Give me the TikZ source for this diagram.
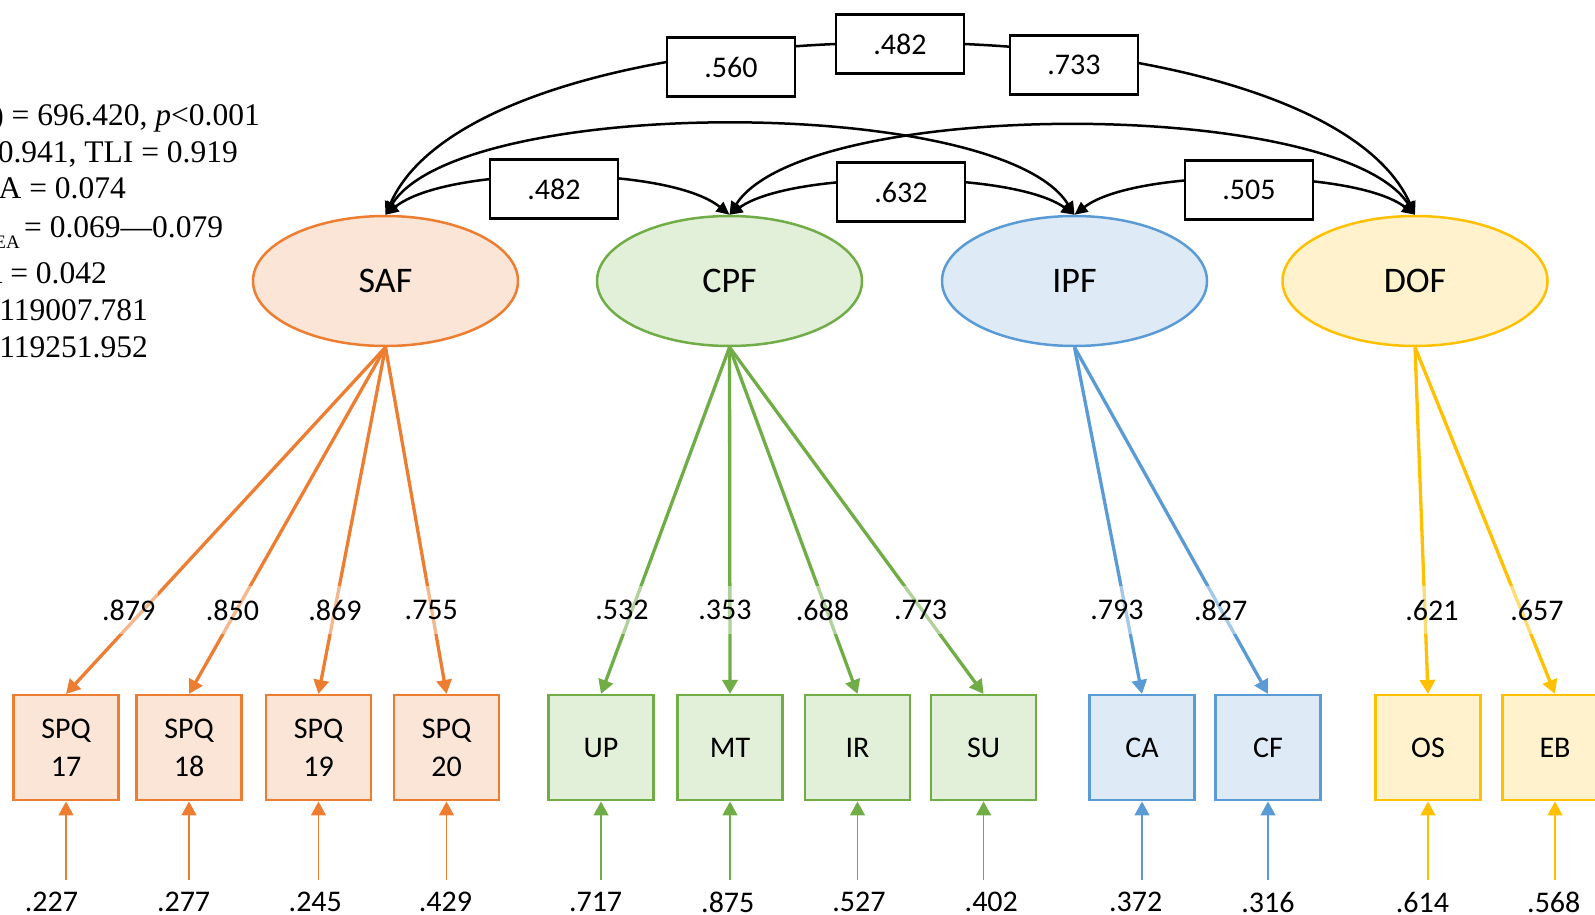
\documentclass[tikz,border=0pt]{standalone}
\usepackage{fontspec}
\setmainfont{Carlito}
\newfontfamily\timesfont{Liberation Serif}
\usetikzlibrary{arrows.meta,shapes.geometric}

\definecolor{orgline}{HTML}{ED7D31}
\definecolor{orgfill}{HTML}{FBE5D6}
\definecolor{grnline}{HTML}{70AD47}
\definecolor{grnfill}{HTML}{E2F0D9}
\definecolor{bluline}{HTML}{5B9BD5}
\definecolor{blufill}{HTML}{DEEBF7}
\definecolor{yelline}{HTML}{FFC000}
\definecolor{yelfill}{HTML}{FFF2CC}

\tikzset{
  factor/.style={ellipse, draw, line width=2.5pt, minimum width=265pt, minimum height=130pt, inner sep=0pt, font=\fontsize{36}{40}\selectfont},
  item/.style={rectangle, draw, line width=2.5pt, minimum width=105pt, minimum height=105pt, inner sep=0pt, align=center, font=\fontsize{30}{38}\selectfont},
  covbox/.style={rectangle, draw, fill=white, line width=2.5pt, minimum width=128pt, minimum height=59pt, font=\fontsize{30}{36}\selectfont},
  loadlab/.style={fill=white, fill opacity=0.45, text opacity=1, inner xsep=3pt, inner ysep=14pt, font=\fontsize{30}{36}\selectfont},
  errlab/.style={inner xsep=2pt, inner ysep=1pt, outer ysep=11pt, font=\fontsize{30}{36}\selectfont},
  stat/.style={inner sep=0pt, font=\timesfont\fontsize{31.5}{36}\selectfont},
  cov/.style={{Triangle[length=13pt,width=12pt]}-{Triangle[length=13pt,width=12pt]}, line width=2.5pt},
  load/.style={-{Triangle[length=14pt,width=15pt]}, line width=3.3pt},
  err/.style={-{Triangle[length=14pt,width=15pt]}, line width=1.5pt},
}

\begin{document}
\begin{tikzpicture}[x=1pt,y=-1pt]
    \useasboundingbox (0,0) rectangle (1595,915);

    %%%%%%%%%%%%%%%%%%%% fit indices
    \node[stat, anchor=base east] (st1) at (260,125) {) = 696.420, \textit{p}<0.001};
    \node[stat, anchor=base east] (st2) at (238,162) {0.941, TLI = 0.919};
    \node[stat, anchor=base east] (st3) at (126,198) {A = 0.074};
    \node[stat, anchor=base west] (st4) at (24,237) {= 0.069—0.079};
    \node[stat, anchor=base east, font=\timesfont\fontsize{19}{20}\selectfont] (st4s) at (20,248) {EA};
    \node[stat, anchor=base east] (st5) at (107,283) {R = 0.042};
    \node[stat, anchor=base east] (st6) at (148,320) {119007.781};
    \node[stat, anchor=base east] (st7) at (148,357) {119251.952};

    %%%%%%%%%%%%%%%%%%%% factors
    \node[factor, draw=orgline, fill=orgfill] (SAF) at (385.5,281) {SAF};
    \node[factor, draw=grnline, fill=grnfill] (CPF) at (729.5,281) {CPF};
    \node[factor, draw=bluline, fill=blufill] (IPF) at (1074.5,281) {IPF};
    \node[factor, draw=yelline, fill=yelfill] (DOF) at (1415,281) {DOF};

    %%%%%%%%%%%%%%%%%%%% items
    \foreach \nm/\x/\lab in {s17/66/17, s18/189/18, s19/318.5/19, s20/446.5/20}
        \node[item, draw=orgline, fill=orgfill] (\nm) at (\x,747.7) {SPQ\\\lab};
    \foreach \nm/\x in {UP/601, MT/730, IR/857.5, SU/983.6}
        \node[item, draw=grnline, fill=grnfill] (\nm) at (\x,747.7) {\nm};
    \foreach \nm/\x in {CA/1142, CF/1268}
        \node[item, draw=bluline, fill=blufill] (\nm) at (\x,747.7) {\nm};
    \foreach \nm/\x in {OS/1428, EB/1555}
        \node[item, draw=yelline, fill=yelfill] (\nm) at (\x,747.7) {\nm};

    %%%%%%%%%%%%%%%%%%%% loadings
    \foreach \nm in {s17,s18,s19,s20}
        \draw[load, orgline] (SAF.south) -- (\nm.north);
    \foreach \nm in {UP,MT,IR,SU}
        \draw[load, grnline] (CPF.south) -- (\nm.north);
    \foreach \nm in {CA,CF}
        \draw[load, bluline] (IPF.south) -- (\nm.north);
    \foreach \nm in {OS,EB}
        \draw[load, yelline] (DOF.south) -- (\nm.north);

    \foreach \v/\x [count=\i] in {.879/128.7, .850/232.4, .869/335, .755/431.3,
        .532/622, .353/725, .688/822.4, .773/920.6,
        .793/1117, .827/1220.6, .621/1432, .657/1537}
        \node[loadlab] (ld\i) at (\x,610) {\v};

    %%%%%%%%%%%%%%%%%%%% errors
    \foreach \nm/\x/\v/\c [count=\i] in {s17/51.4/.227/orgline, s18/183.6/.277/orgline,
        s19/315.3/.245/orgline, s20/445.5/.429/orgline,
        UP/595.6/.717/grnline, MT/727.8/.875/grnline, IR/859/.527/grnline, SU/991.3/.402/grnline,
        CA/1135.7/.372/bluline, CF/1268/.316/bluline, OS/1422.5/.614/yelline, EB/1553.8/.568/yelline}
    {
        \node[errlab] (er\i) at (\x,902) {\v};
        \draw[err, \c] (\nm.south |- er\i.north) -- (\nm.south);
    }

    %%%%%%%%%%%%%%%%%%%% covariances
    \draw[cov] (SAF.north) .. controls (447,165) and (668,165) .. (CPF.north);
    \draw[cov] (CPF.north) .. controls (792,170) and (1012,170) .. (IPF.north);
    \draw[cov] (IPF.north) .. controls (1135,168) and (1354,168) .. (DOF.north);
    \draw[cov] (SAF.north) .. controls (460,95) and (1000,95) .. (IPF.north);
    \draw[cov] (CPF.north) .. controls (805,97) and (1340,97) .. (DOF.north);
    \draw[cov] (SAF.north) .. controls (485,-11) and (1314,-11) .. (DOF.north);

    \node[covbox] (c12) at (554,189) {.482};
    \node[covbox] (c23) at (901,192) {.632};
    \node[covbox] (c34) at (1249,190) {.505};
    \node[covbox] (c13) at (731,67) {.560};
    \node[covbox] (c14) at (900,44) {.482};
    \node[covbox] (c24) at (1074,65) {.733};

\end{tikzpicture}
\end{document}
